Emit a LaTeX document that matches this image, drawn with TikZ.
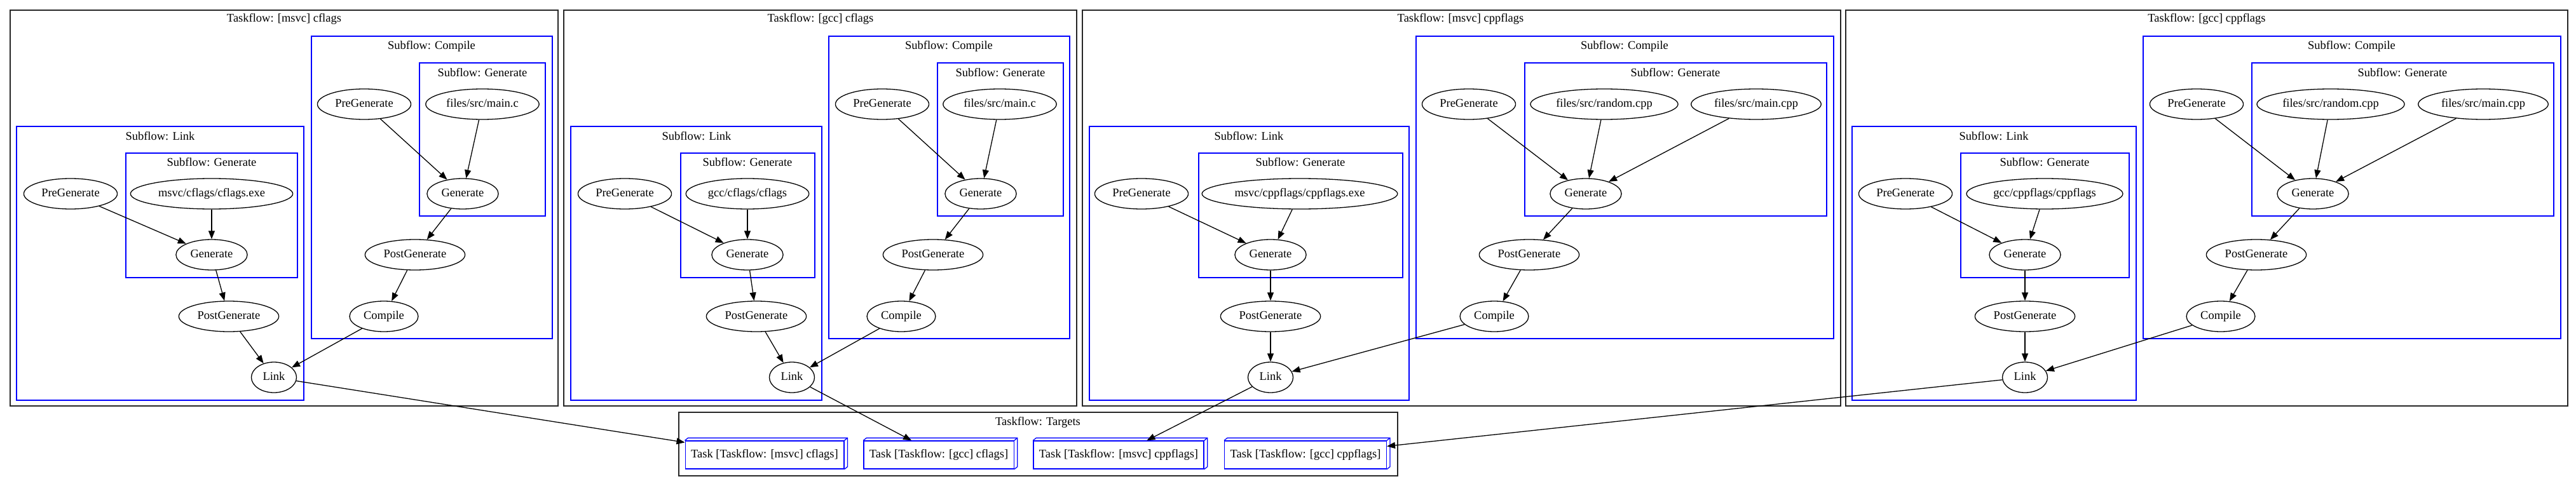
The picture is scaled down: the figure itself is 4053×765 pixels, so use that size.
\documentclass[tikz,border=0pt]{standalone}
\usepackage{fontspec}
\setmainfont{Liberation Serif}
\usetikzlibrary{shapes.geometric, arrows.meta, calc}

\begin{document}
\begin{tikzpicture}[
			x=1pt, y=-1pt
			,every node/.append style={font=\fontsize{18.5}{22}\selectfont}
			,task/.style={ellipse, draw, line width=1.3pt, minimum height=48pt, minimum width=71pt, inner xsep=6.3pt, text height=13pt, text depth=4pt}
			,title/.style={inner sep=0pt}
			,target/.style={rectangle, draw=blue, line width=1.3pt, minimum height=44pt, inner xsep=9pt, text height=13pt, text depth=4pt}
			,taskflow/.style={draw=black!85, line width=1.5pt}
			,subflow/.style={draw=blue, line width=1.5pt}
			,edge/.style={-{Triangle[length=13pt, width=10pt]}, line width=1.3pt}
		]
			\useasboundingbox (0,0) rectangle (4053,765);

			% Taskflow: [msvc] cflags
			\draw[taskflow] (16,16) rectangle (878,639);
			\node[title] (tf1) at (447,30) {Taskflow: [msvc] cflags};
			\draw[subflow] (490,57) rectangle (869,533);
			\node[title] (scomp1) at (679,73) {Subflow: Compile};
			\draw[subflow] (660,99) rectangle (858,340);
			\node[title] (sgenc1) at (759,114) {Subflow: Generate};
			\node[task] (cpre1) at (573,164) {PreGenerate};
			\node[task] (csrc1) at (759,164) {files/src/main.c};
			\node[task] (cgen1) at (728,305) {Generate};
			\node[task] (cpost1) at (653,401) {PostGenerate};
			\node[task] (comp1) at (604,498) {Compile};
			\draw[subflow] (26,199) rectangle (478,630);
			\node[title] (slink1) at (252,214) {Subflow: Link};
			\draw[subflow] (198,241) rectangle (468,437);
			\node[title] (sgenl1) at (333,255) {Subflow: Generate};
			\node[task] (lpre1) at (111,305) {PreGenerate};
			\node[task] (lexe1) at (333,305) {msvc/cflags/cflags.exe};
			\node[task] (lgen1) at (333,401) {Generate};
			\node[task] (lpost1) at (360,498) {PostGenerate};
			\node[task] (link1) at (431,594) {Link};

			% Taskflow: [gcc] cflags
			\draw[taskflow] (887,16) rectangle (1694,639);
			\node[title] (tf2) at (1291,30) {Taskflow: [gcc] cflags};
			\draw[subflow] (1304,57) rectangle (1683,533);
			\node[title] (scomp2) at (1493,73) {Subflow: Compile};
			\draw[subflow] (1475,99) rectangle (1673,340);
			\node[title] (sgenc2) at (1574,114) {Subflow: Generate};
			\node[task] (cpre2) at (1388,164) {PreGenerate};
			\node[task] (csrc2) at (1573,164) {files/src/main.c};
			\node[task] (cgen2) at (1543,305) {Generate};
			\node[task] (cpost2) at (1468,401) {PostGenerate};
			\node[task] (comp2) at (1418,498) {Compile};
			\draw[subflow] (898,199) rectangle (1293,630);
			\node[title] (slink2) at (1096,214) {Subflow: Link};
			\draw[subflow] (1071,241) rectangle (1282,437);
			\node[title] (sgenl2) at (1176,255) {Subflow: Generate};
			\node[task] (lpre2) at (983,305) {PreGenerate};
			\node[task] (lexe2) at (1176,305) {gcc/cflags/cflags};
			\node[task] (lgen2) at (1176,401) {Generate};
			\node[task] (lpost2) at (1190,498) {PostGenerate};
			\node[task] (link2) at (1246,594) {Link};

			% Taskflow: [msvc] cppflags
			\draw[taskflow] (1703,16) rectangle (2896,639);
			\node[title] (tf3) at (2298,30) {Taskflow: [msvc] cppflags};
			\draw[subflow] (2228,57) rectangle (2885,533);
			\node[title] (scomp3) at (2556,73) {Subflow: Compile};
			\draw[subflow] (2399,99) rectangle (2874,340);
			\node[title] (sgenc3) at (2636,114) {Subflow: Generate};
			\node[task] (cpre3) at (2311,164) {PreGenerate};
			\node[task] (crnd3) at (2524,164) {files/src/random.cpp};
			\node[task] (csrc3) at (2763,164) {files/src/main.cpp};
			\node[task] (cgen3) at (2495,305) {Generate};
			\node[task] (cpost3) at (2406,401) {PostGenerate};
			\node[task] (comp3) at (2351,498) {Compile};
			\draw[subflow] (1714,199) rectangle (2217,630);
			\node[title] (slink3) at (1965,214) {Subflow: Link};
			\draw[subflow] (1886,241) rectangle (2207,437);
			\node[title] (sgenl3) at (2046,255) {Subflow: Generate};
			\node[task] (lpre3) at (1796,305) {PreGenerate};
			\node[task] (lexe3) at (2045,305) {msvc/cppflags/cppflags.exe};
			\node[task] (lgen3) at (1999,401) {Generate};
			\node[task] (lpost3) at (1999,498) {PostGenerate};
			\node[task] (link3) at (1999,594) {Link};

			% Taskflow: [gcc] cppflags
			\draw[taskflow] (2904,16) rectangle (4040,639);
			\node[title] (tf4) at (3472,30) {Taskflow: [gcc] cppflags};
			\draw[subflow] (3372,57) rectangle (4029,533);
			\node[title] (scomp4) at (3700,73) {Subflow: Compile};
			\draw[subflow] (3543,99) rectangle (4018,340);
			\node[title] (sgenc4) at (3780,114) {Subflow: Generate};
			\node[task] (cpre4) at (3456,164) {PreGenerate};
			\node[task] (crnd4) at (3667,164) {files/src/random.cpp};
			\node[task] (csrc4) at (3907,164) {files/src/main.cpp};
			\node[task] (cgen4) at (3639,305) {Generate};
			\node[task] (cpost4) at (3550,401) {PostGenerate};
			\node[task] (comp4) at (3494,498) {Compile};
			\draw[subflow] (2914,199) rectangle (3361,630);
			\node[title] (slink4) at (3137,214) {Subflow: Link};
			\draw[subflow] (3085,241) rectangle (3350,437);
			\node[title] (sgenl4) at (3217,255) {Subflow: Generate};
			\node[task] (lpre4) at (2998,305) {PreGenerate};
			\node[task] (lexe4) at (3217,305) {gcc/cppflags/cppflags};
			\node[task] (lgen4) at (3186,401) {Generate};
			\node[task] (lpost4) at (3186,498) {PostGenerate};
			\node[task] (link4) at (3186,594) {Link};

			% Taskflow: Targets
			\draw[taskflow] (1068,649) rectangle (2199,749);
			\node[title] (tft) at (1633,665) {Taskflow: Targets};
			\node[target] (tgt1) at (1203,716) {Task [Taskflow: [msvc] cflags]};
			\node[target] (tgt2) at (1477,716) {Task [Taskflow: [gcc] cflags]};
			\node[target] (tgt3) at (1760,716) {Task [Taskflow: [msvc] cppflags]};
			\node[target] (tgt4) at (2054,716) {Task [Taskflow: [gcc] cppflags]};
			\foreach \t in {tgt1,tgt2,tgt3,tgt4}
				\draw[draw=blue, line width=1.3pt] (\t.north west) -- ++(5,-4) -| ($(\t.south east)+(5,-4)$) -- (\t.south east)
					(\t.north east) -- ++(5,-4);

			% edges
			\foreach \i in {1,...,4} {
				\draw[edge] (cpre\i) -- (cgen\i);
				\draw[edge] (csrc\i) -- (cgen\i);
				\draw[edge] (cgen\i) -- (cpost\i);
				\draw[edge] (cpost\i) -- (comp\i);
				\draw[edge] (lpre\i) -- (lgen\i);
				\draw[edge] (lexe\i) -- (lgen\i);
				\draw[edge] (lgen\i) -- (lpost\i);
				\draw[edge] (lpost\i) -- (link\i);
				\draw[edge] (comp\i) -- (link\i);
				\draw[edge] (link\i) -- (tgt\i);
			}
			\draw[edge] (crnd3) -- (cgen3);
			\draw[edge] (crnd4) -- (cgen4);
		\end{tikzpicture}
\end{document}
